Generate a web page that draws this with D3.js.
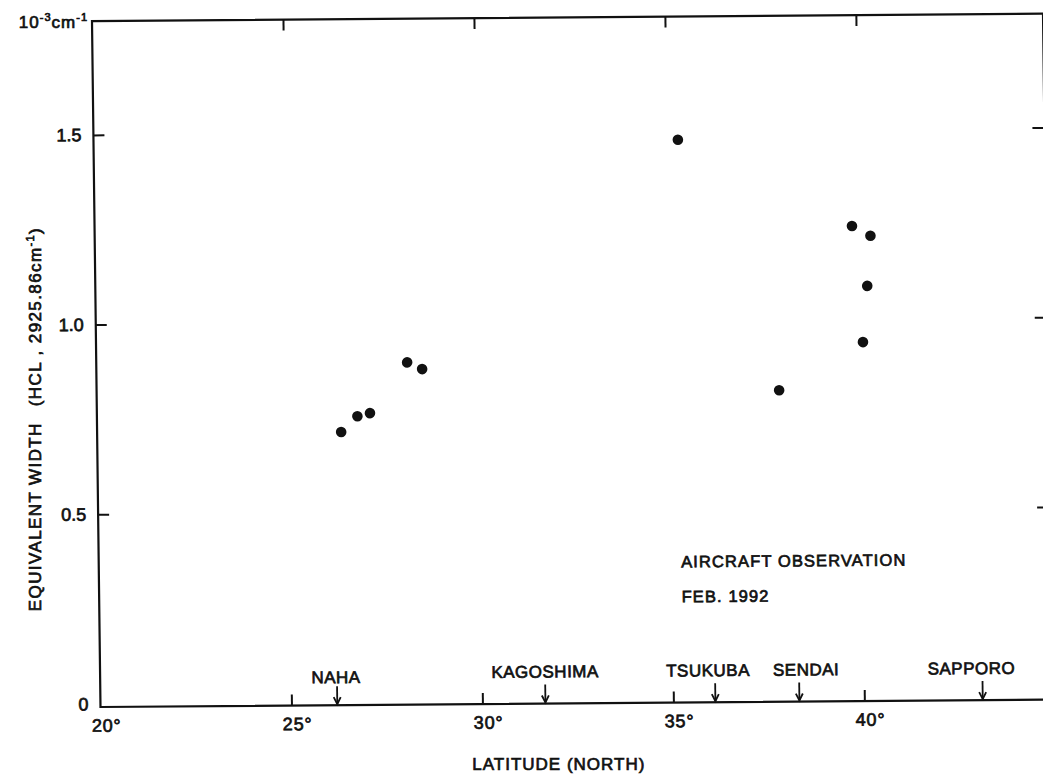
<!DOCTYPE html>
<html>
<head>
<meta charset="utf-8">
<script src="https://cdn.jsdelivr.net/npm/d3@7"></script>
<style>
  body { margin: 0; background: #fff; }
  text { font-family: "Liberation Sans", Arial, sans-serif; fill: #111; stroke: #111; stroke-width: 0.7px; }
</style>
</head>
<body>
<div id="chart"></div>
<script>
// data
var latitude   = [26.39, 26.82, 27.15, 28.14, 28.53, 35.30, 37.87, 39.83, 40.31, 40.21, 40.08];
var equivWidth = [0.712, 0.753, 0.761, 0.894, 0.876, 1.475, 0.813, 1.244, 1.218, 1.086, 0.938];

var cities   = ["NAHA", "KAGOSHIMA", "TSUKUBA", "SENDAI", "SAPPORO"];
var cityLat  = [26.2, 31.65, 36.1, 38.3, 43.1];

var xTicks = [20, 25, 30, 35, 40];
var yTicks = [0, 0.5, 1.0, 1.5];
var yTickLabels = ["0", "0.5", "1.0", "1.5"];

// page + plot frame (the scan is slightly skewed, so the plot group is too)
var width = 1043, height = 778;
var ox = 100.5, oy = 707;
var plotW = 951, plotH = 686;

var svg = d3.select("#chart")
    .append("svg")
    .attr("width", width)
    .attr("height", height);

var g = svg.append("g")
    .attr("transform", `translate(${ox},${oy}) skewY(-0.45) skewX(0.71)`);

var x = d3.scaleLinear()
    .domain([20, 44.9])
    .range([0, plotW]);

var y = d3.scaleLinear()
    .domain([0, 1.8])
    .range([-3, -plotH]);

// frame
g.append("path")
    .attr("d", `M0,0V${-plotH}H${plotW}V0Z`)
    .attr("fill", "none")
    .attr("stroke", "#111")
    .attr("stroke-width", 2.2);

// bottom axis: ticks pointing up, degree labels
var xAxis = g.append("g")
    .call(d3.axisBottom(x)
        .tickValues(xTicks)
        .tickSizeInner(-11)
        .tickSizeOuter(0)
        .tickPadding(12)
        .tickFormat(d => d + "°"));
xAxis.select(".domain").remove();
xAxis.selectAll(".tick line").attr("stroke", "#111").attr("stroke-width", 2)
    .filter(d => d === 20).remove();
xAxis.selectAll(".tick text")
    .attr("dx", "0.3em")
    .style("font-size", "18px")
    .style("letter-spacing", "0.8px");

// top axis: ticks pointing down
var topAxis = g.append("g")
    .attr("transform", `translate(0,${-plotH})`)
    .call(d3.axisTop(x)
        .tickValues(xTicks.slice(1))
        .tickSizeInner(-11)
        .tickSizeOuter(0)
        .tickFormat(""));
topAxis.select(".domain").remove();
topAxis.selectAll(".tick line").attr("stroke", "#111").attr("stroke-width", 2);

// left axis
var yAxis = g.append("g")
    .call(d3.axisLeft(y)
        .tickValues(yTicks)
        .tickSizeInner(-11)
        .tickSizeOuter(0)
        .tickPadding(12)
        .tickFormat((d, i) => yTickLabels[i]));
yAxis.select(".domain").remove();
yAxis.selectAll(".tick line").attr("stroke", "#111").attr("stroke-width", 2)
    .filter(d => d === 0).remove();
yAxis.selectAll(".tick text")
    .style("font-size", "18px");

// right axis, only the inward ticks show
var rightAxis = g.append("g")
    .attr("transform", `translate(${plotW},0)`)
    .call(d3.axisLeft(y)
        .tickValues(yTicks.slice(1))
        .tickSize(12)
        .tickFormat(""));
rightAxis.select(".domain").remove();
rightAxis.selectAll(".tick line").attr("stroke", "#111").attr("stroke-width", 2);

// points
g.append("g")
    .selectAll("circle")
    .data(latitude)
    .join("circle")
    .attr("cx", d => x(d))
    .attr("cy", (d, i) => y(equivWidth[i]))
    .attr("r", 5.3)
    .attr("fill", "#111");

// city markers: arrow + name
var labelNudge = {NAHA: -1, KAGOSHIMA: 0, TSUKUBA: -7, SENDAI: 7, SAPPORO: -11};
var city = g.append("g")
    .selectAll("g")
    .data(cities)
    .join("g")
    .attr("transform", (d, i) => `translate(${x(cityLat[i])},0)`);
city.append("line")
    .attr("y1", -19).attr("y2", -1)
    .attr("stroke", "#111").attr("stroke-width", 1.8);
city.append("path")
    .attr("d", "M-3.5,-8L0,-1L3.5,-8")
    .attr("fill", "none")
    .attr("stroke", "#111").attr("stroke-width", 1.8);
city.append("text")
    .attr("x", d => labelNudge[d])
    .attr("y", d => d === "NAHA" ? -22 : -26)
    .attr("text-anchor", "middle")
    .style("font-size", "17px")
    .style("letter-spacing", "0.5px")
    .text(d => d);

// annotation
var note = g.append("g")
    .style("font-size", "16.5px")
    .style("letter-spacing", "1.1px");
note.append("text").attr("x", x(35.25)).attr("y", y(0.348))
    .text("AIRCRAFT OBSERVATION");
note.append("text").attr("x", x(35.25)).attr("y", y(0.256))
    .text("FEB. 1992");

// x title
svg.append("text")
    .attr("x", ox + x(32))
    .attr("y", 770)
    .attr("text-anchor", "middle")
    .style("font-size", "17px")
    .style("letter-spacing", "1px")
    .text("LATITUDE (NORTH)");

// y title with superscript unit
var yTitle = svg.append("text")
    .attr("transform", "translate(41,419) rotate(-90)")
    .attr("text-anchor", "middle")
    .style("font-size", "17px")
    .style("letter-spacing", "1.4px");
yTitle.append("tspan").text("EQUIVALENT WIDTH");
yTitle.append("tspan").attr("dx", 16).text("(HCL , 2925.86cm");
yTitle.append("tspan").attr("dy", -7).style("font-size", "11px").text("-1");
yTitle.append("tspan").attr("dy", 7).text(")");

// unit label at top-left
var unit = svg.append("text")
    .attr("x", 88)
    .attr("y", 28)
    .attr("text-anchor", "end")
    .style("font-size", "17px")
    .style("letter-spacing", "1px");
unit.append("tspan").text("10");
unit.append("tspan").attr("dy", -7).style("font-size", "11px").text("-3");
unit.append("tspan").attr("dy", 7).text("cm");
unit.append("tspan").attr("dy", -7).style("font-size", "11px").text("-1");
</script>
</body>
</html>
